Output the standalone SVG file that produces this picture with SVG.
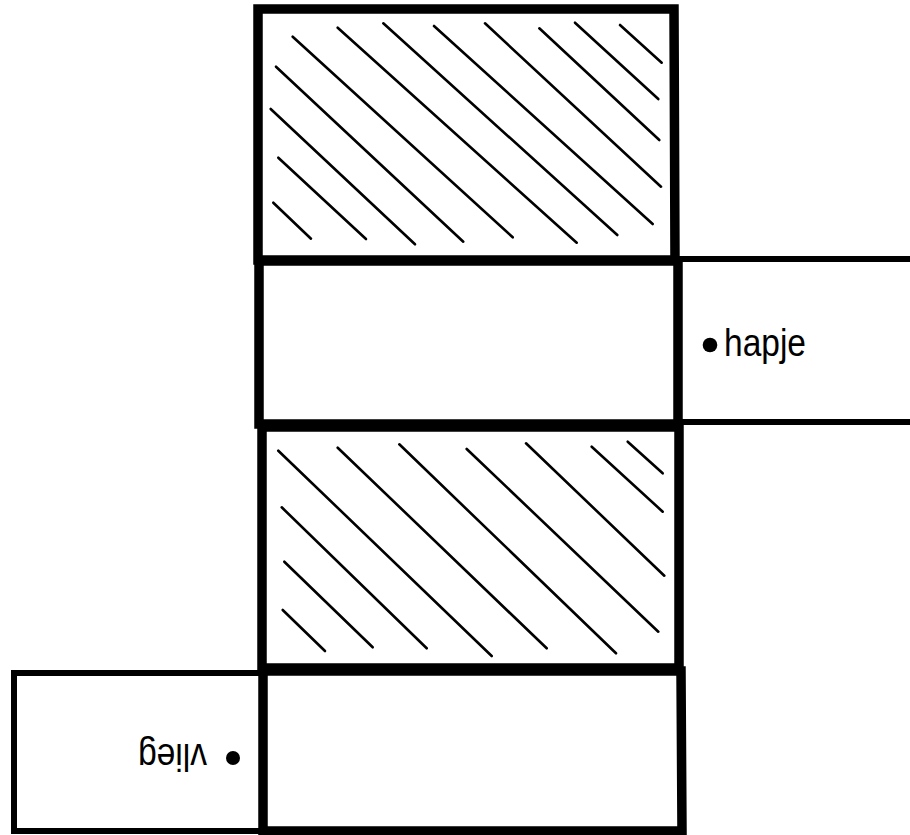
<svg xmlns="http://www.w3.org/2000/svg" width="910" height="835" viewBox="0 0 910 835">
<style>
.face{fill:none;stroke:#000;stroke-width:9.5;stroke-linejoin:miter}
.flap{fill:none;stroke:#000;stroke-width:6;stroke-linecap:butt}
.hatch{stroke:#000;stroke-width:2.6;stroke-linecap:round;fill:none}
.lbl{font-family:"Liberation Sans","DejaVu Sans",sans-serif;font-size:38px;fill:#000}
</style>
<rect width="910" height="835" fill="#fff"/>
<g id="face-top">
<path class="face" d="M258,9 L674,9 L675,260 L258,260 Z"/>
<g class="hatch">
<line x1="620" y1="25" x2="661.7" y2="62.7"/>
<line x1="575" y1="22.7" x2="658.3" y2="99"/>
<line x1="539.3" y1="28.3" x2="659.3" y2="140"/>
<line x1="485" y1="23.3" x2="661" y2="186.7"/>
<line x1="434" y1="26" x2="652.7" y2="224"/>
<line x1="383.3" y1="23.3" x2="617.3" y2="235"/>
<line x1="337.7" y1="27.7" x2="576.7" y2="242.7"/>
<line x1="292.7" y1="36.7" x2="512.7" y2="237.3"/>
<line x1="276" y1="66.7" x2="463.3" y2="241.7"/>
<line x1="270.7" y1="109" x2="415" y2="244.3"/>
<line x1="278.3" y1="157.7" x2="366" y2="239"/>
<line x1="273.3" y1="202.7" x2="311" y2="238.7"/>
</g>
</g>
<g id="face-second">
<path class="face" d="M259,261 L678,261 L678,424 L259,424 Z"/>
</g>
<g id="flap-hapje">
<path class="flap" d="M678,259 L915,259 M678,422 L915,422"/>
<circle cx="710" cy="345" r="7.3" fill="#000"/>
<text class="lbl" x="724" y="356" textLength="82" lengthAdjust="spacingAndGlyphs">hapje</text>
</g>
<g id="face-third">
<path class="face" d="M262,427 L679,427 L679,668 L262,668 Z"/>
<g class="hatch">
<line x1="627.7" y1="441.7" x2="662.7" y2="473.3"/>
<line x1="591.7" y1="446.7" x2="662.7" y2="511.7"/>
<line x1="526" y1="443.3" x2="664.3" y2="575.7"/>
<line x1="466.7" y1="449" x2="658.3" y2="631.7"/>
<line x1="399.3" y1="444.3" x2="616" y2="653.3"/>
<line x1="337.7" y1="447.7" x2="546.7" y2="648.3"/>
<line x1="278.3" y1="450.7" x2="491.7" y2="656"/>
<line x1="281.7" y1="507.3" x2="426.7" y2="648.3"/>
<line x1="284.3" y1="561.7" x2="372.7" y2="647.3"/>
<line x1="282.7" y1="610" x2="325" y2="651"/>
</g>
</g>
<g id="face-bottom">
<path class="face" d="M263,671 L681,671 L682,831 L263,831 Z"/>
</g>
<g id="flap-vlieg">
<path class="flap" d="M262,673 L14,673 L14,831 L262,831"/>
<circle cx="233" cy="758" r="7" fill="#000"/>
<text class="lbl" transform="translate(207,744) rotate(180)" textLength="69" lengthAdjust="spacingAndGlyphs">vlieg</text>
</g>
<g id="connectors"></g>
</svg>
